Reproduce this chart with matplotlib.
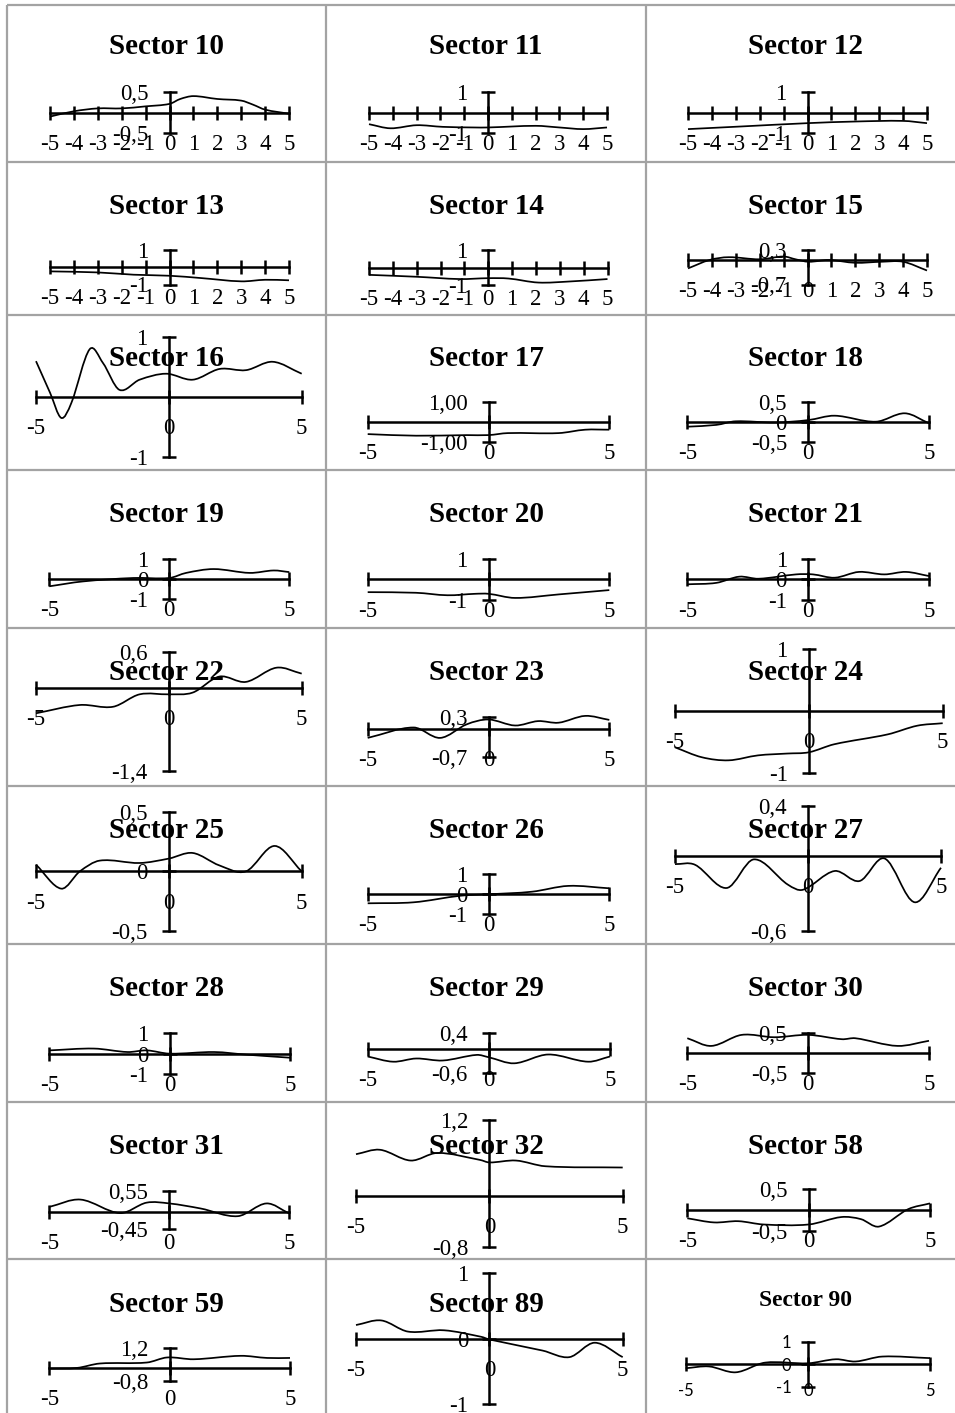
import numpy as np
import matplotlib
matplotlib.use('Agg')
import matplotlib.pyplot as plt
from matplotlib.path import Path
from matplotlib.patches import PathPatch

plt.rcParams['font.family'] = ['Liberation Serif', 'DejaVu Serif']

W, H = 955, 1413

# values (x runs from -5 to 5)
s10_x = [-5, -4, -3, -2, -1, 0, 0.45, 1, 2, 3, 3.5, 4, 5]
s10_y = [-0.10, 0.03, 0.10, 0.10, 0.15, 0.21, 0.33, 0.40, 0.33, 0.29, 0.19, 0.07, -0.03]
s11_x = [-5, -4.1, -3, -1.9, -0.6, 0, 2, 3, 4, 5]
s11_y = [-0.57, -0.77, -0.62, -0.70, -0.73, -0.73, -0.65, -0.73, -0.81, -0.73]
s12_x = [-5, -2.75, 0, 2, 4, 5]
s12_y = [-0.81, -0.68, -0.52, -0.44, -0.41, -0.52]
s13_x = [-5, -3, -1.5, 0, 1.3, 3, 4, 5]
s13_y = [-0.25, -0.31, -0.44, -0.50, -0.63, -0.82, -0.73, -0.76]
s14_x = [-5, -3, -1.2, 0, 0.85, 2.1, 3.4, 5]
s14_y = [-0.42, -0.53, -0.66, -0.61, -0.63, -0.86, -0.80, -0.66]
s15_x = [-5, -4.1, -3.3, -2, -1, -0.5, 0.05, 0.9, 2, 3.1, 4, 5]
s15_y = [-0.24, 0.0, 0.08, 0.02, 0.10, 0.02, -0.05, 0.0, -0.08, -0.05, -0.05, -0.30]
s16_x = [-5, -4.47, -4.05, -3.67, -2.98, -2.48, -1.86, -1.1, -0.1, 0.9, 1.91, 2.91, 3.91, 5]
s16_y = [0.60, 0.07, -0.35, -0.10, 0.80, 0.57, 0.12, 0.29, 0.39, 0.29, 0.47, 0.45, 0.59, 0.39]
s17_x = [-5, -3, -0.9, 0, 0.8, 2.9, 4, 5]
s17_y = [-0.62, -0.70, -0.67, -0.67, -0.57, -0.57, -0.40, -0.40]
s18_x = [-5, -3.8, -3, -1.35, 0, 1.1, 2.8, 4, 5]
s18_y = [-0.125, -0.08, 0.01, -0.02, 0.04, 0.15, 0.0, 0.21, -0.04]
s19_x = [-5, -3.6, -1.5, 0, 0.7, 1.85, 3.35, 4.35, 5]
s19_y = [-0.36, -0.12, 0.05, 0.05, 0.30, 0.49, 0.30, 0.42, 0.34]
s20_x = [-5, -3, -1.7, -0.55, 0, 1.1, 2.9, 5]
s20_y = [-0.62, -0.65, -0.77, -0.70, -0.70, -0.90, -0.73, -0.52]
s21_x = [-5, -3.8, -2.85, -2.05, -0.5, 0.2, 1.1, 2.1, 3.15, 4.05, 5]
s21_y = [-0.24, -0.17, 0.13, 0.03, 0.24, 0.24, 0.08, 0.36, 0.24, 0.36, 0.16]
s22_x = [-5, -3.35, -2.1, -1.1, 0, 0.9, 1.9, 2.9, 4.05, 5]
s22_y = [-0.43, -0.29, -0.32, -0.11, -0.11, -0.08, 0.19, 0.10, 0.34, 0.24]
s23_x = [-5, -3.1, -2, -0.9, 0, 1.1, 2.05, 2.9, 4, 5]
s23_y = [-0.23, 0.03, -0.23, 0.11, 0.23, 0.08, 0.19, 0.15, 0.32, 0.22]
s24_x = [-5, -4, -3, -1.9, -0.8, 0, 0.95, 2.95, 4.05, 5]
s24_y = [-0.59, -0.75, -0.80, -0.72, -0.69, -0.67, -0.54, -0.38, -0.24, -0.20]
s25_x = [-5, -4.05, -3.35, -2.6, -1.1, 0, 0.9, 1.9, 2.9, 3.98, 5]
s25_y = [0.056, -0.145, 0.0, 0.09, 0.07, 0.107, 0.154, 0.05, 0.0, 0.213, 0.0]
s26_x = [-5, -3.1, -1.15, 0, 1.8, 3.3, 5]
s26_y = [-0.45, -0.40, -0.07, 0.0, 0.13, 0.42, 0.30]
s27_x = [-5, -4.25, -3.06, -2.03, -0.75, -0.19, 1.0, 1.94, 2.88, 4.01, 5]
s27_y = [-0.065, -0.07, -0.256, -0.027, -0.23, -0.27, -0.12, -0.20, -0.02, -0.37, -0.094]
s28_x = [-5, -3.15, -1.75, -0.95, 0, 1.85, 3.2, 5]
s28_y = [0.16, 0.25, 0.08, 0.16, 0.0, 0.08, -0.05, -0.20]
s29_x = [-5, -3.95, -3, -1.9, -0.5, 0, 1.05, 2.45, 4.1, 5]
s29_y = [-0.18, -0.31, -0.23, -0.28, -0.14, -0.20, -0.35, -0.13, -0.31, -0.18]
s30_x = [-5, -4, -2.75, -1.4, 0, 1.4, 1.95, 3.7, 5]
s30_y = [0.375, 0.18, 0.46, 0.40, 0.46, 0.35, 0.375, 0.18, 0.31]
s31_x = [-5, -3.7, -2.05, -0.95, 0, 1.3, 2.85, 4.05, 5]
s31_y = [0.13, 0.32, -0.03, 0.24, 0.22, 0.09, -0.11, 0.22, -0.04]
s32_x = [-5, -4.1, -2.95, -1.95, -0.35, 0, 1.0, 2.1, 5]
s32_y = [0.66, 0.73, 0.56, 0.68, 0.57, 0.53, 0.56, 0.47, 0.45]
s58_x = [-5, -3.9, -2.9, -1.85, 0, 1.35, 2.15, 2.9, 4.1, 5]
s58_y = [-0.20, -0.30, -0.27, -0.35, -0.35, -0.17, -0.22, -0.40, 0.02, 0.16]
s59_x = [-5, -3.85, -2.9, -0.95, -0.1, 1.0, 2.95, 4.05, 5]
s59_y = [-0.04, 0.0, 0.27, 0.33, 0.64, 0.53, 0.74, 0.61, 0.61]
s89_x = [-5, -4.05, -3.05, -1.7, -0.3, 0, 2.0, 3.0, 3.95, 5]
s89_y = [0.21, 0.28, 0.11, 0.13, 0.03, -0.01, -0.18, -0.28, -0.06, -0.28]
s90_x = [-5, -4.05, -2.95, -1.75, 0, 1.15, 1.95, 3.05, 5]
s90_y = [-0.18, -0.10, -0.36, 0.07, 0.04, 0.22, 0.12, 0.34, 0.27]

x_all = [-5, -4, -3, -2, -1, 0, 1, 2, 3, 4, 5]
x_few = [-5, 0, 5]

# y axis ticks and their labels (comma decimals as in the source)
yt_h = [-0.5, 0.5];        yl_h = ['-0,5', '0,5']
yt_1 = [-1, 1];            yl_1 = ['-1', '1']
yt_10 = [-1, 1];           yl_10 = ['-1,00', '1,00']
yt_1z = [-1, 0, 1];        yl_1z = ['-1', '0', '1']
yt_hz = [-0.5, 0, 0.5];    yl_hz = ['-0,5', '0', '0,5']
yt_37 = [-0.7, 0.3];       yl_37 = ['-0,7', '0,3']
yt_614 = [-1.4, 0.6];      yl_614 = ['-1,4', '0,6']
yt_46 = [-0.6, 0.4];       yl_46 = ['-0,6', '0,4']
yt_5545 = [-0.45, 0.55];   yl_5545 = ['-0,45', '0,55']
yt_128 = [-0.8, 1.2];      yl_128 = ['-0,8', '1,2']

# name, x, y, plot box in pixels (x of -5, x of 5, top, bottom), y ticks, y labels, x ticks
panels = [
    ('10', s10_x, s10_y, (50, 289, 92, 133), yt_h, yl_h, x_all),
    ('11', s11_x, s11_y, (369, 607, 92, 133), yt_1, yl_1, x_all),
    ('12', s12_x, s12_y, (688, 927, 92, 133), yt_1, yl_1, x_all),
    ('13', s13_x, s13_y, (50, 289, 249.5, 284.5), yt_1, yl_1, x_all),
    ('14', s14_x, s14_y, (369, 607.5, 250, 285), yt_1, yl_1, x_all),
    ('15', s15_x, s15_y, (688, 927, 249.5, 284.5), yt_37, yl_37, x_all),
    ('16', s16_x, s16_y, (36, 301.7, 337.3, 456.7), yt_1, yl_1, x_few),
    ('17', s17_x, s17_y, (367.7, 609.3, 401.7, 441.7), yt_10, yl_10, x_few),
    ('18', s18_x, s18_y, (687.3, 929, 401.7, 441.7), yt_hz, yl_hz, x_few),
    ('19', s19_x, s19_y, (49.3, 289.3, 558.7, 599.3), yt_1z, yl_1z, x_few),
    ('20', s20_x, s20_y, (367.7, 609.3, 558.7, 600), yt_1, yl_1, x_few),
    ('21', s21_x, s21_y, (687.3, 929, 558.7, 600), yt_1z, yl_1z, x_few),
    ('22', s22_x, s22_y, (36, 301.7, 652.3, 770.7), yt_614, yl_614, x_few),
    ('23', s23_x, s23_y, (367.7, 609.3, 716.7, 756.7), yt_37, yl_37, x_few),
    ('24', s24_x, s24_y, (675, 942.7, 649, 772.7), yt_1, yl_1, x_few),
    ('25', s25_x, s25_y, (36, 301.7, 811.7, 931), yt_hz, yl_hz, x_few),
    ('26', s26_x, s26_y, (367.7, 609.3, 874.3, 914.3), yt_1z, yl_1z, x_few),
    ('27', s27_x, s27_y, (675, 941, 806, 931), yt_46, yl_46, x_few),
    ('28', s28_x, s28_y, (49.3, 290, 1033.3, 1074), yt_1z, yl_1z, x_few),
    ('29', s29_x, s29_y, (367.7, 610, 1033.3, 1073.3), yt_46, yl_46, x_few),
    ('30', s30_x, s30_y, (687.3, 929, 1033.3, 1072.7), yt_h, yl_h, x_few),
    ('31', s31_x, s31_y, (49.3, 289.3, 1190.7, 1229.3), yt_5545, yl_5545, x_few),
    ('32', s32_x, s32_y, (356, 622.7, 1120, 1246.7), yt_128, yl_128, x_few),
    ('58', s58_x, s58_y, (687.3, 930, 1189.3, 1230.7), yt_h, yl_h, x_few),
    ('59', s59_x, s59_y, (49.3, 290, 1348.3, 1381), yt_128, yl_128, x_few),
    ('89', s89_x, s89_y, (356, 622.7, 1273.3, 1404.3), yt_1z, yl_1z, x_few),
    ('90', s90_x, s90_y, (685.7, 930, 1341.7, 1386.7), yt_1z, yl_1z, x_few),
]

# table layout (pixels)
col_lines = [7, 326, 645.5]
row_lines = [5, 162, 315, 470, 628, 786, 944, 1102, 1259]
col_mid = [166.5, 486, 805]
title_y = [47, 206, 358, 515, 673, 830, 989, 1147, 1304]


def smooth_path(xs, ys):
    # smoothed line like a spreadsheet "smooth line" chart: cubic Bezier through the points
    xs = np.asarray(xs, float)
    ys = np.asarray(ys, float)
    m = np.empty(len(xs))
    m[1:-1] = (ys[2:] - ys[:-2]) / (xs[2:] - xs[:-2])
    m[0] = (ys[1] - ys[0]) / (xs[1] - xs[0])
    m[-1] = (ys[-1] - ys[-2]) / (xs[-1] - xs[-2])
    verts = [(xs[0], ys[0])]
    codes = [Path.MOVETO]
    for i in range(len(xs) - 1):
        h = xs[i + 1] - xs[i]
        verts += [(xs[i] + h / 3, ys[i] + m[i] * h / 3),
                  (xs[i + 1] - h / 3, ys[i + 1] - m[i + 1] * h / 3),
                  (xs[i + 1], ys[i + 1])]
        codes += [Path.CURVE4] * 3
    return Path(verts, codes)


fig = plt.figure(figsize=(W / 100, H / 100), dpi=100)

bg = fig.add_axes([0, 0, 1, 1], zorder=-5)
bg.set_xlim(0, W)
bg.set_ylim(H, 0)
bg.axis('off')
for cx in col_lines:
    bg.plot([cx, cx], [row_lines[0], H], color='#a3a3a3', lw=1.6, solid_capstyle='butt')
for ry in row_lines:
    bg.plot([col_lines[0], W], [ry, ry], color='#a3a3a3', lw=1.6, solid_capstyle='butt')

for i, (name, xs, ys, box, yt, yl, xt) in enumerate(panels):
    r, c = divmod(i, 3)
    small = name == '90'
    if small:
        bg.text(col_mid[c], title_y[r] - 4, 'Sector ' + name, ha='center', va='center',
                fontsize=17, fontweight='bold')
    else:
        bg.text(col_mid[c], title_y[r], 'Sector ' + name, ha='center', va='center',
                fontsize=21, fontweight='bold')

    xl, xr, ytop, ybot = box
    ax = fig.add_axes([xl / W, 1 - ybot / H, (xr - xl) / W, (ybot - ytop) / H])
    ax.patch.set_visible(False)
    ax.set_xlim(-5, 5)
    ax.set_ylim(min(yt), max(yt))
    ax.spines['top'].set_visible(False)
    ax.spines['right'].set_visible(False)
    ax.spines['left'].set_position(('data', 0))
    ax.spines['bottom'].set_position(('data', 0))
    ax.spines['left'].set_linewidth(1.8)
    ax.spines['bottom'].set_linewidth(1.8)

    ax.set_xticks(xt)
    ax.set_xticklabels([str(v) for v in xt])
    ax.set_yticks(yt)
    ax.set_yticklabels(yl)
    if small:
        ax.tick_params(direction='inout', length=9.5, width=1.8, labelsize=12)
        ax.tick_params(axis='x', pad=9)
        ax.tick_params(axis='y', pad=7)
        for lab in ax.get_xticklabels() + ax.get_yticklabels():
            lab.set_family(['Lato', 'DejaVu Sans'])
    else:
        ax.tick_params(direction='inout', length=9.5, width=1.8, labelsize=16.5)
        ax.tick_params(axis='x', pad=10.5)
        ax.tick_params(axis='y', pad=10.5)

    ax.add_patch(PathPatch(smooth_path(xs, ys), fill=False, edgecolor='black',
                           lw=1.25, clip_on=False))

fig.savefig('out.png', dpi=100)
